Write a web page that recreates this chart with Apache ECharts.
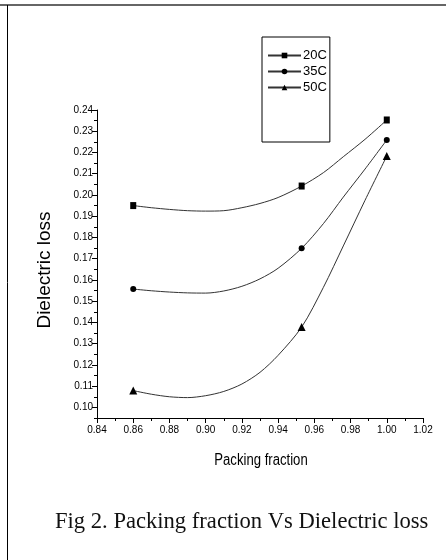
<!DOCTYPE html>
<html>
<head>
<meta charset="utf-8">
<script src="https://cdn.jsdelivr.net/npm/echarts@6/dist/echarts.min.js"></script>
<style>
html,body{margin:0;padding:0;background:#fff;}
#chart{width:446px;height:560px;}
</style>
</head>
<body>
<div id="chart"></div>
<script>
// Measured points
const packing = [0.86, 0.953, 1.00];
const loss20 = [0.195, 0.2042, 0.2353];
const loss35 = [0.1557, 0.1749, 0.2259];
const loss50 = [0.1079, 0.1378, 0.2183];
// Curve shape (positions of the drawn spline)
const trace20X = [0.87, 0.88, 0.89, 0.90, 0.91, 0.92, 0.93, 0.94, 0.965, 0.976, 0.988];
const trace20Y = [0.1940, 0.1932, 0.1926, 0.1924, 0.1926, 0.1940, 0.1960, 0.1988, 0.2105, 0.2180, 0.2262];
const trace35X = [0.87, 0.88, 0.89, 0.90, 0.91, 0.92, 0.93, 0.94, 0.965, 0.976, 0.988];
const trace35Y = [0.1549, 0.1543, 0.1539, 0.1538, 0.1548, 0.1570, 0.1605, 0.1655, 0.1865, 0.1990, 0.2122];
const trace50X = [0.87, 0.88, 0.89, 0.90, 0.91, 0.92, 0.93, 0.94, 0.965, 0.976, 0.988];
const trace50Y = [0.1062, 0.1050, 0.1046, 0.1055, 0.1075, 0.1110, 0.1165, 0.1245, 0.1565, 0.1760, 0.1975];
// Series names
const seriesNames = ['20C', '35C', '50C'];
// Axis ticks
const xMajorTicks = [0.84, 0.86, 0.88, 0.90, 0.92, 0.94, 0.96, 0.98, 1.00, 1.02];
const xMinorTicks = [0.85, 0.87, 0.89, 0.91, 0.93, 0.95, 0.97, 0.99, 1.01];
const yMajorTicks = [0.10, 0.11, 0.12, 0.13, 0.14, 0.15, 0.16, 0.17, 0.18, 0.19, 0.20, 0.21, 0.22, 0.23, 0.24];
const yMinorTicks = [0.095, 0.105, 0.115, 0.125, 0.135, 0.145, 0.155, 0.165, 0.175, 0.185, 0.195, 0.205, 0.215, 0.225, 0.235];
// Texts
const xTitle = 'Packing fraction';
const yTitle = 'Dielectric loss';
const caption = 'Fig 2. Packing fraction Vs Dielectric loss';

function buildData(ys, tx, ty, sym, size) {
  const pts = [];
  packing.forEach((x, i) => pts.push({ value: [x, ys[i]], symbol: sym, symbolSize: size }));
  tx.forEach((x, i) => pts.push({ value: [x, ty[i]], symbol: 'none' }));
  pts.sort((a, b) => a.value[0] - b.value[0]);
  return pts;
}

const chart = echarts.init(document.getElementById('chart'), null, { renderer: 'canvas' });
const sans = "'Liberation Sans', Arial, sans-serif";

const baseSeries = (name, data, sym, size) => ({
  name: name,
  type: 'line',
  xAxisIndex: 0,
  yAxisIndex: 0,
  data: data,
  smooth: 0.3,
  symbol: sym,
  symbolSize: size,
  showSymbol: true,
  showAllSymbol: true,
  lineStyle: { color: '#333', width: 1 },
  itemStyle: { color: '#000' },
  emphasis: { disabled: true },
  animation: false,
  z: 3
});

chart.setOption({
  animation: false,
  backgroundColor: '#fff',
  grid: { left: 97, right: 23, top: 110, bottom: 142, containLabel: false },
  legend: {
    orient: 'vertical',
    left: 262,
    top: 37,
    padding: [11, 3, 47, 5],
    itemGap: 1,
    itemWidth: 33,
    itemHeight: 7,
    borderColor: '#000',
    borderWidth: 1,
    selectedMode: false,
    textStyle: { fontFamily: sans, fontSize: 13, lineHeight: 15, color: '#000', padding: [0, 0, 0, -3] },
    data: seriesNames
  },
  xAxis: [
    {
      type: 'value', min: 0.84, max: 1.02, position: 'bottom',
      axisLine: { show: true, lineStyle: { color: '#000', width: 1 } },
      axisTick: { show: true, inside: false, length: 5, customValues: xMajorTicks, lineStyle: { color: '#000' } },
      axisLabel: { show: true, customValues: xMajorTicks, margin: 7, fontFamily: sans, fontSize: 10, color: '#000',
        formatter: v => v.toFixed(2) },
      splitLine: { show: false }
    },
    {
      type: 'value', min: 0.84, max: 1.02, position: 'bottom', gridIndex: 0,
      axisLine: { show: false },
      axisTick: { show: true, inside: false, length: 3, customValues: xMinorTicks, lineStyle: { color: '#000' } },
      axisLabel: { show: false },
      splitLine: { show: false }
    }
  ],
  yAxis: [
    {
      type: 'value', min: 0.095, max: 0.24, position: 'left',
      axisLine: { show: true, lineStyle: { color: '#000', width: 1 } },
      axisTick: { show: true, inside: false, length: 5, customValues: yMajorTicks, lineStyle: { color: '#000' } },
      axisLabel: { show: true, customValues: yMajorTicks, margin: 4, fontFamily: sans, fontSize: 10, color: '#000',
        formatter: v => v.toFixed(2) },
      splitLine: { show: false }
    },
    {
      type: 'value', min: 0.095, max: 0.24, position: 'left', gridIndex: 0,
      axisLine: { show: false },
      axisTick: { show: true, inside: false, length: 3, customValues: yMinorTicks, lineStyle: { color: '#000' } },
      axisLabel: { show: false },
      splitLine: { show: false }
    }
  ],
  graphic: [
    { type: 'line', shape: { x1: 0, y1: 5, x2: 446, y2: 5 }, style: { stroke: '#666', lineWidth: 2 } },
    { type: 'line', shape: { x1: 7.5, y1: 5, x2: 7.5, y2: 560 }, style: { stroke: '#000', lineWidth: 1 } },
    { type: 'text', x: 45, y: 270, rotation: Math.PI / 2,
      style: { text: yTitle, font: "19px 'Liberation Sans', Arial, sans-serif", fill: '#000',
        textAlign: 'center', textVerticalAlign: 'middle' } },
    { type: 'text', x: 261, y: 461, scaleX: 0.82,
      style: { text: xTitle, font: "16px 'Liberation Sans', Arial, sans-serif", fill: '#000',
        textAlign: 'center', textVerticalAlign: 'middle' } },
    { type: 'text', x: 55, y: 522,
      style: { text: caption, font: "22.6px 'Liberation Serif', 'Times New Roman', serif", fill: '#111',
        textAlign: 'left', textVerticalAlign: 'middle' } }
  ],
  series: [
    baseSeries(seriesNames[0], buildData(loss20, trace20X, trace20Y, 'rect', [6, 7]), 'rect', [6, 7]),
    baseSeries(seriesNames[1], buildData(loss35, trace35X, trace35Y, 'circle', 6), 'circle', 6),
    baseSeries(seriesNames[2], buildData(loss50, trace50X, trace50Y, 'triangle', 8), 'triangle', 8)
  ]
});
</script>
</body>
</html>
